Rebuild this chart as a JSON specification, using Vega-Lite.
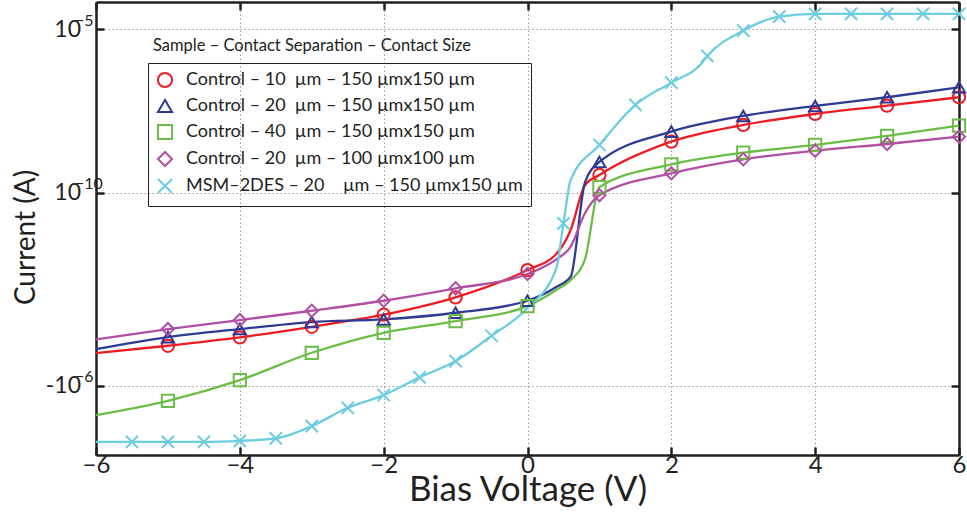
{
  "$schema": "https://vega.github.io/schema/vega-lite/v6.json",
  "width": 863,
  "height": 453,
  "autosize": {"type": "none"},
  "padding": {"left": 96, "top": 2, "right": 8, "bottom": 57},
  "background": "white",
  "title": {
    "text": "Sample – Contact Separation – Contact Size",
    "anchor": "start",
    "frame": "group",
    "orient": "top",
    "baseline": "alphabetic",
    "offset": -67,
    "dx": 57,
    "font": "Lato",
    "fontSize": 16.5,
    "fontWeight": "normal",
    "color": "#231f20"
  },
  "data": {
    "values": [
      {"series": "Control – 10\u00a0\u00a0µm – 150 µmx150 µm", "voltage": -6, "current": -3.888, "marker": false},
      {"series": "Control – 10\u00a0\u00a0µm – 150 µmx150 µm", "voltage": -5, "current": -3.665, "marker": true},
      {"series": "Control – 10\u00a0\u00a0µm – 150 µmx150 µm", "voltage": -4, "current": -3.409, "marker": true},
      {"series": "Control – 10\u00a0\u00a0µm – 150 µmx150 µm", "voltage": -3, "current": -3.085, "marker": true},
      {"series": "Control – 10\u00a0\u00a0µm – 150 µmx150 µm", "voltage": -2, "current": -2.718, "marker": true},
      {"series": "Control – 10\u00a0\u00a0µm – 150 µmx150 µm", "voltage": -1, "current": -2.187, "marker": true},
      {"series": "Control – 10\u00a0\u00a0µm – 150 µmx150 µm", "voltage": 0, "current": -1.353, "marker": true},
      {"series": "Control – 10\u00a0\u00a0µm – 150 µmx150 µm", "voltage": 0.4, "current": -0.864, "marker": false},
      {"series": "Control – 10\u00a0\u00a0µm – 150 µmx150 µm", "voltage": 0.6, "current": -0.131, "marker": false},
      {"series": "Control – 10\u00a0\u00a0µm – 150 µmx150 µm", "voltage": 0.8, "current": 1.243, "marker": false},
      {"series": "Control – 10\u00a0\u00a0µm – 150 µmx150 µm", "voltage": 1, "current": 1.549, "marker": true},
      {"series": "Control – 10\u00a0\u00a0µm – 150 µmx150 µm", "voltage": 2, "current": 2.566, "marker": true},
      {"series": "Control – 10\u00a0\u00a0µm – 150 µmx150 µm", "voltage": 3, "current": 3.076, "marker": true},
      {"series": "Control – 10\u00a0\u00a0µm – 150 µmx150 µm", "voltage": 4, "current": 3.412, "marker": true},
      {"series": "Control – 10\u00a0\u00a0µm – 150 µmx150 µm", "voltage": 5, "current": 3.665, "marker": true},
      {"series": "Control – 10\u00a0\u00a0µm – 150 µmx150 µm", "voltage": 6, "current": 3.922, "marker": true},

      {"series": "Control – 20\u00a0\u00a0µm – 150 µmx150 µm", "voltage": -6, "current": -3.766, "marker": false},
      {"series": "Control – 20\u00a0\u00a0µm – 150 µmx150 µm", "voltage": -5, "current": -3.400, "marker": true},
      {"series": "Control – 20\u00a0\u00a0µm – 150 µmx150 µm", "voltage": -4, "current": -3.155, "marker": true},
      {"series": "Control – 20\u00a0\u00a0µm – 150 µmx150 µm", "voltage": -3, "current": -2.941, "marker": true},
      {"series": "Control – 20\u00a0\u00a0µm – 150 µmx150 µm", "voltage": -2, "current": -2.859, "marker": true},
      {"series": "Control – 20\u00a0\u00a0µm – 150 µmx150 µm", "voltage": -1, "current": -2.657, "marker": true},
      {"series": "Control – 20\u00a0\u00a0µm – 150 µmx150 µm", "voltage": 0, "current": -2.291, "marker": true},
      {"series": "Control – 20\u00a0\u00a0µm – 150 µmx150 µm", "voltage": 0.4, "current": -1.872, "marker": false},
      {"series": "Control – 20\u00a0\u00a0µm – 150 µmx150 µm", "voltage": 0.6, "current": -1.558, "marker": false},
      {"series": "Control – 20\u00a0\u00a0µm – 150 µmx150 µm", "voltage": 0.8, "current": 1.33, "marker": false},
      {"series": "Control – 20\u00a0\u00a0µm – 150 µmx150 µm", "voltage": 1, "current": 1.946, "marker": true},
      {"series": "Control – 20\u00a0\u00a0µm – 150 µmx150 µm", "voltage": 2, "current": 2.871, "marker": true},
      {"series": "Control – 20\u00a0\u00a0µm – 150 µmx150 µm", "voltage": 3, "current": 3.351, "marker": true},
      {"series": "Control – 20\u00a0\u00a0µm – 150 µmx150 µm", "voltage": 4, "current": 3.656, "marker": true},
      {"series": "Control – 20\u00a0\u00a0µm – 150 µmx150 µm", "voltage": 5, "current": 3.922, "marker": true},
      {"series": "Control – 20\u00a0\u00a0µm – 150 µmx150 µm", "voltage": 6, "current": 4.227, "marker": true},

      {"series": "Control – 40\u00a0\u00a0µm – 150 µmx150 µm", "voltage": -6, "current": -5.782, "marker": false},
      {"series": "Control – 40\u00a0\u00a0µm – 150 µmx150 µm", "voltage": -5, "current": -5.345, "marker": true},
      {"series": "Control – 40\u00a0\u00a0µm – 150 µmx150 µm", "voltage": -4, "current": -4.713, "marker": true},
      {"series": "Control – 40\u00a0\u00a0µm – 150 µmx150 µm", "voltage": -3, "current": -3.879, "marker": true},
      {"series": "Control – 40\u00a0\u00a0µm – 150 µmx150 µm", "voltage": -2, "current": -3.268, "marker": true},
      {"series": "Control – 40\u00a0\u00a0µm – 150 µmx150 µm", "voltage": -1, "current": -2.911, "marker": true},
      {"series": "Control – 40\u00a0\u00a0µm – 150 µmx150 µm", "voltage": 0, "current": -2.453, "marker": true},
      {"series": "Control – 40\u00a0\u00a0µm – 150 µmx150 µm", "voltage": 0.4, "current": -1.964, "marker": false},
      {"series": "Control – 40\u00a0\u00a0µm – 150 µmx150 µm", "voltage": 0.6, "current": -1.659, "marker": false},
      {"series": "Control – 40\u00a0\u00a0µm – 150 µmx150 µm", "voltage": 0.8, "current": -1.017, "marker": false},
      {"series": "Control – 40\u00a0\u00a0µm – 150 µmx150 µm", "voltage": 1, "current": 1.182, "marker": true},
      {"series": "Control – 40\u00a0\u00a0µm – 150 µmx150 µm", "voltage": 2, "current": 1.875, "marker": true},
      {"series": "Control – 40\u00a0\u00a0µm – 150 µmx150 µm", "voltage": 3, "current": 2.230, "marker": true},
      {"series": "Control – 40\u00a0\u00a0µm – 150 µmx150 µm", "voltage": 4, "current": 2.465, "marker": true},
      {"series": "Control – 40\u00a0\u00a0µm – 150 µmx150 µm", "voltage": 5, "current": 2.740, "marker": true},
      {"series": "Control – 40\u00a0\u00a0µm – 150 µmx150 µm", "voltage": 6, "current": 3.054, "marker": true},

      {"series": "Control – 20\u00a0\u00a0µm – 100 µmx100 µm", "voltage": -6, "current": -3.470, "marker": false},
      {"series": "Control – 20\u00a0\u00a0µm – 100 µmx100 µm", "voltage": -5, "current": -3.155, "marker": true},
      {"series": "Control – 20\u00a0\u00a0µm – 100 µmx100 µm", "voltage": -4, "current": -2.880, "marker": true},
      {"series": "Control – 20\u00a0\u00a0µm – 100 µmx100 µm", "voltage": -3, "current": -2.596, "marker": true},
      {"series": "Control – 20\u00a0\u00a0µm – 100 µmx100 µm", "voltage": -2, "current": -2.291, "marker": true},
      {"series": "Control – 20\u00a0\u00a0µm – 100 µmx100 µm", "voltage": -1, "current": -1.912, "marker": true},
      {"series": "Control – 20\u00a0\u00a0µm – 100 µmx100 µm", "voltage": 0, "current": -1.475, "marker": true},
      {"series": "Control – 20\u00a0\u00a0µm – 100 µmx100 µm", "voltage": 0.4, "current": -1.026, "marker": false},
      {"series": "Control – 20\u00a0\u00a0µm – 100 µmx100 µm", "voltage": 0.6, "current": -0.641, "marker": false},
      {"series": "Control – 20\u00a0\u00a0µm – 100 µmx100 µm", "voltage": 0.8, "current": 0.39, "marker": false},
      {"series": "Control – 20\u00a0\u00a0µm – 100 µmx100 µm", "voltage": 1, "current": 0.932, "marker": true},
      {"series": "Control – 20\u00a0\u00a0µm – 100 µmx100 µm", "voltage": 2, "current": 1.600, "marker": true},
      {"series": "Control – 20\u00a0\u00a0µm – 100 µmx100 µm", "voltage": 3, "current": 2.028, "marker": true},
      {"series": "Control – 20\u00a0\u00a0µm – 100 µmx100 µm", "voltage": 4, "current": 2.291, "marker": true},
      {"series": "Control – 20\u00a0\u00a0µm – 100 µmx100 µm", "voltage": 5, "current": 2.495, "marker": true},
      {"series": "Control – 20\u00a0\u00a0µm – 100 µmx100 µm", "voltage": 6, "current": 2.718, "marker": true},

      {"series": "MSM–2DES – 20\u00a0\u00a0\u00a0\u00a0µm – 150 µmx150 µm", "voltage": -6, "current": -6.597, "marker": false},
      {"series": "MSM–2DES – 20\u00a0\u00a0\u00a0\u00a0µm – 150 µmx150 µm", "voltage": -5.5, "current": -6.597, "marker": true},
      {"series": "MSM–2DES – 20\u00a0\u00a0\u00a0\u00a0µm – 150 µmx150 µm", "voltage": -5, "current": -6.597, "marker": true},
      {"series": "MSM–2DES – 20\u00a0\u00a0\u00a0\u00a0µm – 150 µmx150 µm", "voltage": -4.5, "current": -6.597, "marker": true},
      {"series": "MSM–2DES – 20\u00a0\u00a0\u00a0\u00a0µm – 150 µmx150 µm", "voltage": -4, "current": -6.567, "marker": true},
      {"series": "MSM–2DES – 20\u00a0\u00a0\u00a0\u00a0µm – 150 µmx150 µm", "voltage": -3.5, "current": -6.494, "marker": true},
      {"series": "MSM–2DES – 20\u00a0\u00a0\u00a0\u00a0µm – 150 µmx150 µm", "voltage": -3, "current": -6.118, "marker": true},
      {"series": "MSM–2DES – 20\u00a0\u00a0\u00a0\u00a0µm – 150 µmx150 µm", "voltage": -2.5, "current": -5.559, "marker": true},
      {"series": "MSM–2DES – 20\u00a0\u00a0\u00a0\u00a0µm – 150 µmx150 µm", "voltage": -2, "current": -5.171, "marker": true},
      {"series": "MSM–2DES – 20\u00a0\u00a0\u00a0\u00a0µm – 150 µmx150 µm", "voltage": -1.5, "current": -4.630, "marker": true},
      {"series": "MSM–2DES – 20\u00a0\u00a0\u00a0\u00a0µm – 150 µmx150 µm", "voltage": -1, "current": -4.133, "marker": true},
      {"series": "MSM–2DES – 20\u00a0\u00a0\u00a0\u00a0µm – 150 µmx150 µm", "voltage": -0.5, "current": -3.360, "marker": true},
      {"series": "MSM–2DES – 20\u00a0\u00a0\u00a0\u00a0µm – 150 µmx150 µm", "voltage": 0, "current": -2.514, "marker": false},
      {"series": "MSM–2DES – 20\u00a0\u00a0\u00a0\u00a0µm – 150 µmx150 µm", "voltage": 0.4, "current": -1.301, "marker": false},
      {"series": "MSM–2DES – 20\u00a0\u00a0\u00a0\u00a0µm – 150 µmx150 µm", "voltage": 0.5, "current": 0.073, "marker": true},
      {"series": "MSM–2DES – 20\u00a0\u00a0\u00a0\u00a0µm – 150 µmx150 µm", "voltage": 0.6, "current": 1.396, "marker": false},
      {"series": "MSM–2DES – 20\u00a0\u00a0\u00a0\u00a0µm – 150 µmx150 µm", "voltage": 1, "current": 2.465, "marker": true},
      {"series": "MSM–2DES – 20\u00a0\u00a0\u00a0\u00a0µm – 150 µmx150 µm", "voltage": 1.5, "current": 3.687, "marker": true},
      {"series": "MSM–2DES – 20\u00a0\u00a0\u00a0\u00a0µm – 150 µmx150 µm", "voltage": 2, "current": 4.368, "marker": true},
      {"series": "MSM–2DES – 20\u00a0\u00a0\u00a0\u00a0µm – 150 µmx150 µm", "voltage": 2.4, "current": 4.908, "marker": false},
      {"series": "MSM–2DES – 20\u00a0\u00a0\u00a0\u00a0µm – 150 µmx150 µm", "voltage": 2.5, "current": 5.183, "marker": true},
      {"series": "MSM–2DES – 20\u00a0\u00a0\u00a0\u00a0µm – 150 µmx150 µm", "voltage": 3, "current": 5.956, "marker": true},
      {"series": "MSM–2DES – 20\u00a0\u00a0\u00a0\u00a0µm – 150 µmx150 µm", "voltage": 3.5, "current": 6.384, "marker": true},
      {"series": "MSM–2DES – 20\u00a0\u00a0\u00a0\u00a0µm – 150 µmx150 µm", "voltage": 4, "current": 6.466, "marker": true},
      {"series": "MSM–2DES – 20\u00a0\u00a0\u00a0\u00a0µm – 150 µmx150 µm", "voltage": 4.5, "current": 6.466, "marker": true},
      {"series": "MSM–2DES – 20\u00a0\u00a0\u00a0\u00a0µm – 150 µmx150 µm", "voltage": 5, "current": 6.466, "marker": true},
      {"series": "MSM–2DES – 20\u00a0\u00a0\u00a0\u00a0µm – 150 µmx150 µm", "voltage": 5.5, "current": 6.466, "marker": true},
      {"series": "MSM–2DES – 20\u00a0\u00a0\u00a0\u00a0µm – 150 µmx150 µm", "voltage": 6, "current": 6.466, "marker": true}
    ]
  },
  "layer": [
    {
      "mark": {"type": "line", "interpolate": "monotone", "strokeWidth": 2.3},
      "encoding": {
        "x": {
          "field": "voltage", "type": "quantitative",
          "scale": {"domain": [-6, 6], "nice": false, "zero": false},
          "axis": {
            "orient": "bottom", "values": [-6, -4, -2, 0, 2, 4, 6],
            "title": "Bias Voltage (V)", "titleFont": "Lato", "titleFontSize": 35, "titleFontWeight": "normal", "titleColor": "#231f20", "titlePadding": -5,
            "labelFont": "Lato", "labelFontSize": 24, "labelColor": "#231f20", "labelPadding": 6, "labelFlush": false,
            "tickSize": -8, "tickWidth": 2.5, "tickColor": "#231f20",
            "domainWidth": 2.5, "domainColor": "#231f20",
            "grid": true, "gridDash": [1.5, 2.5], "gridColor": "#9a9a9a", "gridWidth": 1
          }
        },
        "y": {
          "field": "current", "type": "quantitative",
          "scale": {"domain": [-7.0, 6.83], "nice": false, "zero": false},
          "axis": {
            "orient": "left", "values": [6, 1, -4.886],
            "labelExpr": "datum.value > 0 ? '10' : '-10'",
            "title": "Current (A)", "titleFont": "Lato", "titleFontSize": 28, "titleFontWeight": "normal", "titleColor": "#231f20", "titlePadding": 5, "titleY": 235,
            "labelFont": "Lato", "labelFontSize": 23, "labelColor": "#231f20", "labelPadding": 23.5, "labelBaseline": "middle",
            "tickSize": -8, "tickWidth": 2.5, "tickColor": "#231f20",
            "domainWidth": 2.5, "domainColor": "#231f20",
            "grid": true, "gridDash": [1.5, 2.5], "gridColor": "#9a9a9a", "gridWidth": 1
          }
        },
        "color": {
          "field": "series", "type": "nominal",
          "scale": {
            "domain": [
              "Control – 10\u00a0\u00a0µm – 150 µmx150 µm",
              "Control – 20\u00a0\u00a0µm – 150 µmx150 µm",
              "Control – 40\u00a0\u00a0µm – 150 µmx150 µm",
              "Control – 20\u00a0\u00a0µm – 100 µmx100 µm",
              "MSM–2DES – 20\u00a0\u00a0\u00a0\u00a0µm – 150 µmx150 µm"
            ],
            "range": ["#ed1c24", "#2e3a94", "#6cbd45", "#b04fa3", "#6ccde0"]
          },
          "legend": {
            "orient": "none", "legendX": 52, "legendY": 61, "title": null,
            "strokeColor": "#231f20", "padding": 8, "rowPadding": 3,
            "labelFont": "Lato", "labelFontSize": 18, "labelColor": "#231f20", "labelLimit": 0, "labelOffset": 12,
            "symbolSize": 200, "symbolStrokeWidth": 2
          }
        }
      }
    },
    {
      "transform": [{"filter": "datum.marker"}],
      "mark": {"type": "point", "filled": false, "strokeWidth": 2, "size": 150, "opacity": 1},
      "encoding": {
        "x": {
          "field": "voltage", "type": "quantitative",
          "axis": {
            "orient": "top", "values": [-6, -4, -2, 0, 2, 4, 6], "labels": false, "title": null, "grid": false,
            "tickSize": -8, "tickWidth": 2.5, "tickColor": "#231f20", "domainWidth": 2.5, "domainColor": "#231f20"
          }
        },
        "y": {
          "field": "current", "type": "quantitative",
          "axis": {
            "orient": "right", "values": [6, 1, -4.886], "labels": false, "title": null, "grid": false,
            "tickSize": -8, "tickWidth": 2.5, "tickColor": "#231f20", "domainWidth": 2.5, "domainColor": "#231f20"
          }
        },
        "color": {"field": "series", "type": "nominal", "legend": null},
        "shape": {
          "field": "series", "type": "nominal",
          "scale": {
            "domain": [
              "Control – 10\u00a0\u00a0µm – 150 µmx150 µm",
              "Control – 20\u00a0\u00a0µm – 150 µmx150 µm",
              "Control – 40\u00a0\u00a0µm – 150 µmx150 µm",
              "Control – 20\u00a0\u00a0µm – 100 µmx100 µm",
              "MSM–2DES – 20\u00a0\u00a0\u00a0\u00a0µm – 150 µmx150 µm"
            ],
            "range": ["circle", "triangle-up", "square", "diamond", "M-1,-1L1,1M-1,1L1,-1"]
          },
          "legend": null
        }
      }
    },
    {
      "mark": {"type": "point", "opacity": 0},
      "encoding": {
        "x": {"field": "voltage", "type": "quantitative", "axis": null},
        "y": {
          "field": "current", "type": "quantitative",
          "axis": {
            "orient": "left", "values": [6, 1, -4.886],
            "labelExpr": "datum.value > 5 ? '−5' : datum.value > 0 ? '−10' : '−6'",
            "labelAlign": "left", "labelPadding": 21.5, "labelOffset": -9, "labelBaseline": "middle",
            "labelFont": "Lato", "labelFontSize": 16, "labelColor": "#231f20",
            "ticks": false, "domain": false, "grid": false, "title": null
          }
        }
      }
    }
  ],
  "resolve": {"axis": {"x": "independent", "y": "independent"}},
  "config": {
    "view": {"stroke": null},
    "font": "Lato"
  }
}
